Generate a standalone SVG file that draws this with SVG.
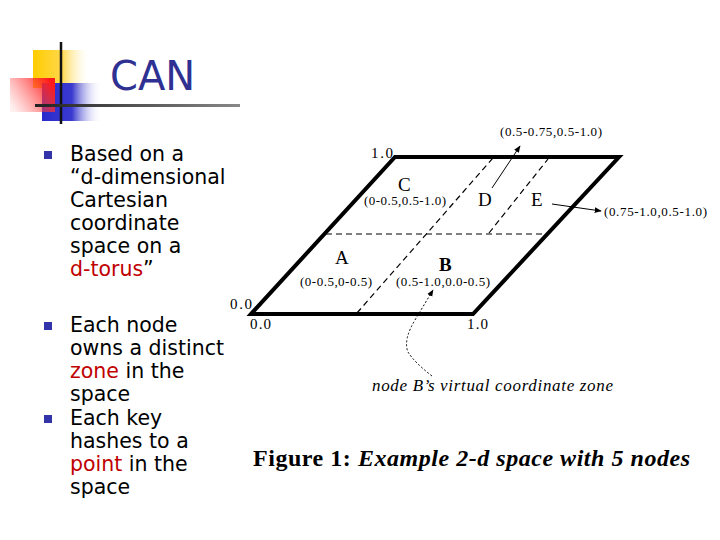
<svg xmlns="http://www.w3.org/2000/svg" width="720" height="540" viewBox="0 0 720 540">
<defs>
<linearGradient id="gy" x1="0" x2="1"><stop offset="0" stop-color="#ffcc00"/><stop offset="0.5" stop-color="#ffd84a"/><stop offset="1" stop-color="#fff" stop-opacity="0"/></linearGradient>
<linearGradient id="gr" x1="1" y1="0.3" x2="0" y2="0.8"><stop offset="0" stop-color="#ff1a1a"/><stop offset="1" stop-color="#ff6666" stop-opacity="0.1"/></linearGradient>
<linearGradient id="gb" x1="0" x2="1"><stop offset="0" stop-color="#2a2acc"/><stop offset="0.5" stop-color="#3a3ad0"/><stop offset="1" stop-color="#fff" stop-opacity="0"/></linearGradient>
<linearGradient id="gl" x1="0" x2="1"><stop offset="0" stop-color="#222"/><stop offset="1" stop-color="#888"/></linearGradient>
<marker id="ah" viewBox="0 0 10 10" refX="9" refY="5" markerWidth="7" markerHeight="7" orient="auto"><path d="M0,1 L10,5 L0,9 z" fill="#000"/></marker>
<style>
.b{font-family:"DejaVu Sans",Verdana,sans-serif;font-size:20.5px;fill:#000}
.r{fill:#c00000}
.s{font-family:"Liberation Serif",serif;fill:#000}
.d{stroke:#000;stroke-width:1.2;stroke-dasharray:6,4;fill:none}
.dt{stroke:#000;stroke-width:1;stroke-dasharray:2,2;fill:none}
</style>
</defs>
<rect width="720" height="540" fill="#fff"/>
<g id="logo">
<rect x="33" y="50" width="58" height="38" fill="url(#gy)"/>
<rect x="42" y="83" width="60" height="38" fill="url(#gb)"/>
<rect x="10" y="78" width="45" height="34" fill="url(#gr)"/>
<line x1="61" y1="42" x2="61" y2="124" stroke="#111" stroke-width="2.5"/>
<rect x="35" y="104" width="205" height="3" fill="url(#gl)"/>
<text x="110" y="90" font-family="DejaVu Sans,Verdana,sans-serif" font-size="40" fill="#2e3192">CAN</text>
</g>
<g id="bullets">
<rect x="44" y="151" width="8" height="8" fill="#3333aa"/>
<rect x="44" y="322" width="8" height="8" fill="#3333aa"/>
<rect x="44" y="415" width="8" height="8" fill="#3333aa"/>
<text class="b" x="70" y="161">Based on a</text>
<text class="b" x="70" y="184">“d-dimensional</text>
<text class="b" x="70" y="207">Cartesian</text>
<text class="b" x="70" y="230">coordinate</text>
<text class="b" x="70" y="253">space on a</text>
<text class="b" x="70" y="276"><tspan class="r">d-torus</tspan>”</text>
<text class="b" x="70" y="332">Each node</text>
<text class="b" x="70" y="355">owns a distinct</text>
<text class="b" x="70" y="378"><tspan class="r">zone</tspan> in the</text>
<text class="b" x="70" y="401">space</text>
<text class="b" x="70" y="425">Each key</text>
<text class="b" x="70" y="448">hashes to a</text>
<text class="b" x="70" y="471"><tspan class="r">point</tspan> in the</text>
<text class="b" x="70" y="494">space</text>
</g>
<g id="space">
<polygon points="251,314 473,314 619,157 395,157" fill="none" stroke="#000" stroke-width="4" stroke-linejoin="miter"/>
</g>
<g id="connectors">
<line class="d" x1="326" y1="234" x2="546" y2="234"/>
<line class="d" x1="357" y1="313" x2="493" y2="158"/>
<line class="d" x1="489" y1="233" x2="548" y2="159"/>
<line x1="492" y1="188" x2="520" y2="146" stroke="#000" stroke-width="1" marker-end="url(#ah)"/>
<line x1="552" y1="204" x2="601" y2="211" stroke="#000" stroke-width="1" marker-end="url(#ah)"/>
<path class="dt" d="M432,376 Q414,362 408,352 Q403,340 415,320 L433,290" marker-end="url(#ah)"/>
</g>
<g id="labels">
<text class="s" x="371" y="158" font-size="15" textLength="22">1.0</text>
<text class="s" x="230" y="309" font-size="15" textLength="22">0.0</text>
<text class="s" x="250" y="329" font-size="15" textLength="21">0.0</text>
<text class="s" x="467" y="329" font-size="15" textLength="21">1.0</text>
<text class="s" x="398" y="191" font-size="19">C</text>
<text class="s" x="364" y="205" font-size="13" textLength="82">(0-0.5,0.5-1.0)</text>
<text class="s" x="478" y="206" font-size="19">D</text>
<text class="s" x="531" y="206" font-size="19">E</text>
<text class="s" x="335" y="264" font-size="19">A</text>
<text class="s" x="300" y="286" font-size="13" textLength="72">(0-0.5,0-0.5)</text>
<text class="s" x="439" y="271" font-size="19" font-weight="bold">B</text>
<text class="s" x="396" y="286" font-size="13" textLength="94">(0.5-1.0,0.0-0.5)</text>
<text class="s" x="500" y="136" font-size="13" textLength="102">(0.5-0.75,0.5-1.0)</text>
<text class="s" x="604" y="216" font-size="13" textLength="103">(0.75-1.0,0.5-1.0)</text>
<text class="s" x="372" y="391" font-size="17" font-style="italic" textLength="241">node B’s virtual coordinate zone</text>
<text class="s" x="253" y="466" font-size="24" font-weight="bold" textLength="437">Figure 1: <tspan font-style="italic">Example 2-d space with 5 nodes</tspan></text>
</g>
</svg>
